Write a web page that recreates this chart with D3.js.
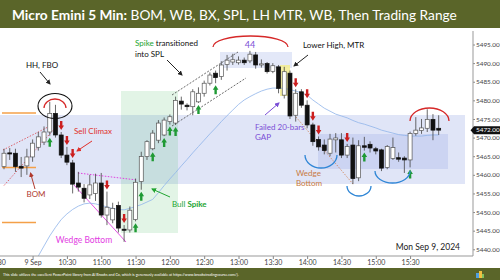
<!DOCTYPE html>
<html>
<head>
<meta charset="utf-8">
<script src="https://cdn.jsdelivr.net/npm/d3@7"></script>
<style>
  html, body { margin: 0; padding: 0; background: #fff; }
  svg { display: block; font-family: Lato, 'Open Sans', sans-serif; }
</style>
</head>
<body>
<div class="canvas"></div>
<script>
// DATA (5 min bars, 9:35 .. 15:55)

const opens = [5462.2, 5465.9, 5465.8, 5462.3, 5462.4, 5464.8, 5467.4, 5468.8, 5471.5, 5476.5,
    5470.7, 5465.3, 5463.2, 5457.8, 5456.4, 5454.6, 5455.0, 5457.8, 5449.2, 5447.9,
    5451.8, 5445.4, 5445.2, 5448.0, 5458.2, 5464.9, 5467.0, 5469.3, 5470.7, 5474.3,
    5473.9, 5479.8, 5478.7, 5478.3, 5479.6, 5481.9, 5484.6, 5487.3, 5486.4, 5489.6,
    5490.3, 5490.1, 5490.8, 5490.6, 5492.2, 5489.5, 5489.9, 5487.8, 5489.0, 5481.4,
    5487.3, 5476.0, 5482.3, 5478.7, 5473.4, 5469.5, 5468.0, 5465.8, 5469.4, 5469.4,
    5465.3, 5468.0, 5459.2, 5467.8, 5468.2, 5467.0, 5466.7, 5462.0, 5464.4, 5464.6,
    5464.5, 5464.0, 5471.1, 5471.9, 5472.5, 5474.9, 5472.5];

const highs = [5467.0, 5467.2, 5467.0, 5464.8, 5467.0, 5469.5, 5471.5, 5473.0, 5479.6, 5478.8,
    5471.5, 5467.5, 5464.0, 5460.8, 5457.5, 5460.0, 5460.3, 5460.5, 5455.5, 5452.5,
    5452.8, 5446.5, 5451.5, 5459.0, 5466.2, 5469.3, 5472.0, 5474.7, 5475.4, 5476.2,
    5481.0, 5481.0, 5479.2, 5483.0, 5483.5, 5485.3, 5487.5, 5488.0, 5490.5, 5492.2,
    5492.5, 5491.8, 5491.5, 5493.3, 5493.0, 5491.0, 5490.3, 5490.0, 5489.5, 5489.0,
    5488.0, 5483.0, 5483.0, 5480.0, 5474.0, 5470.3, 5469.5, 5471.0, 5471.2, 5471.2,
    5468.3, 5470.0, 5469.3, 5470.2, 5469.0, 5467.5, 5467.0, 5468.0, 5470.0, 5466.0,
    5465.0, 5471.6, 5475.5, 5475.0, 5477.6, 5476.3, 5476.0];

const lows = [5461.5, 5464.0, 5460.8, 5459.4, 5460.0, 5463.5, 5466.5, 5468.0, 5470.5, 5470.0,
    5464.5, 5462.6, 5455.0, 5455.5, 5452.6, 5453.5, 5453.0, 5448.5, 5446.5, 5447.0,
    5444.5, 5442.0, 5444.5, 5447.5, 5456.0, 5464.0, 5466.6, 5468.5, 5470.4, 5473.5,
    5473.4, 5477.5, 5477.3, 5476.0, 5479.3, 5481.0, 5484.0, 5484.6, 5485.5, 5488.0,
    5489.5, 5489.6, 5489.5, 5490.0, 5488.5, 5488.8, 5487.2, 5487.3, 5481.9, 5480.5,
    5475.0, 5474.3, 5478.0, 5472.5, 5467.8, 5466.5, 5465.5, 5465.0, 5466.0, 5464.5,
    5464.5, 5457.5, 5458.3, 5466.5, 5466.0, 5465.5, 5461.0, 5461.5, 5464.0, 5463.5,
    5460.5, 5462.0, 5470.5, 5471.0, 5471.5, 5469.3, 5470.7];

const closes = [5465.8, 5465.6, 5462.2, 5461.8, 5464.8, 5468.5, 5470.2, 5471.5, 5476.5, 5470.7,
    5465.3, 5463.4, 5457.5, 5456.7, 5453.7, 5457.3, 5457.8, 5449.2, 5451.3, 5451.0,
    5445.7, 5445.1, 5450.5, 5458.0, 5464.9, 5468.9, 5471.2, 5473.9, 5474.7, 5475.6,
    5480.0, 5479.0, 5478.3, 5482.3, 5481.9, 5484.6, 5486.8, 5486.1, 5489.5, 5490.8,
    5490.9, 5490.8, 5490.1, 5492.4, 5489.5, 5489.8, 5487.7, 5489.3, 5483.2, 5487.7,
    5475.8, 5481.9, 5478.7, 5473.4, 5468.9, 5467.5, 5466.5, 5469.6, 5469.9, 5465.3,
    5467.6, 5459.0, 5467.8, 5467.4, 5467.2, 5466.4, 5461.8, 5467.6, 5467.3, 5464.2,
    5464.0, 5471.1, 5472.0, 5472.6, 5474.9, 5472.0, 5472.0];

// 20 bar EMA
const emaValues = [5424.0, 5427.0, 5430.0, 5432.5, 5434.5, 5436.5, 5438.2, 5440.9, 5443.6, 5445.9,
    5448.0, 5449.5, 5450.7, 5451.6, 5452.2, 5452.4, 5452.2, 5451.8, 5451.4, 5451.0,
    5450.7, 5450.6, 5451.0, 5451.5, 5452.0, 5452.7, 5453.4, 5455.2, 5457.1, 5458.9,
    5460.6, 5462.4, 5464.1, 5465.9, 5467.6, 5469.3, 5471.0, 5472.6, 5474.3, 5475.9,
    5477.4, 5478.9, 5480.1, 5481.0, 5481.8, 5482.5, 5483.0, 5483.3, 5483.3, 5483.2,
    5482.9, 5482.5, 5482.0, 5481.4, 5480.1, 5479.0, 5477.9, 5477.1, 5476.3, 5475.8,
    5475.3, 5474.6, 5474.0, 5473.6, 5473.1, 5472.6, 5472.0, 5471.6, 5471.2, 5470.8,
    5470.6, 5470.4, 5470.4, 5470.4, 5470.6, 5470.7, 5470.7];

// signal bars
const bearSignalBars = [10, 11, 12, 18, 21, 51, 53, 54, 55, 60];
const bullSignalBars = [8, 23, 24, 26, 28, 29, 30, 34, 37, 63, 71];

// axis ticks
const xTickBars = [-1, 5, 11, 17, 23, 29, 35, 41, 47, 53, 59, 65, 71];
const xTickLabels = ['9:30', '9 Sep', '10:30', '11:00', '11:30', '12:00', '12:30',
    '13:00', '13:30', '14:00', '14:30', '15:00', '15:30'];
const yTicks = [5440, 5445, 5450, 5455, 5460, 5465, 5470, 5475, 5480, 5485, 5490, 5495];
const lastPrice = 5472.00;

const bars = d3.range(opens.length).map(i => ({
    i: i,
    open: opens[i],
    high: highs[i],
    low: lows[i],
    close: closes[i]
}));


// CANVAS
const svg = d3.select('.canvas').append('svg')
    .attr('width', 500)
    .attr('height', 280);

const defs = svg.append('defs');

defs.append('clipPath').attr('id', 'plotClip')
    .append('rect')
    .attr('x', 0).attr('y', 30)
    .attr('width', 473).attr('height', 226);

// arrowheads
[['blk', '#222'], ['red', '#e0302a'], ['grn', '#22a532'], ['pur', '#7b4fd6'], ['brn', '#b03a2e']]
    .forEach(([id, col]) => {
        defs.append('marker')
            .attr('id', 'ah-' + id)
            .attr('viewBox', '0 0 10 10')
            .attr('refX', 8).attr('refY', 5)
            .attr('markerWidth', 5).attr('markerHeight', 5)
            .attr('orient', 'auto')
            .append('path')
            .attr('d', 'M0,0 L10,5 L0,10 Z')
            .attr('fill', col);
    });


// scales
const x = d3.scaleLinear().domain([-0.7, 82]).range([0, 473]);
const y = d3.scaleLinear().domain([5440, 5495]).range([249.3, 44.5]);


// TITLE + FOOTER
svg.append('rect').attr('x', 0).attr('y', 0).attr('width', 500).attr('height', 28).attr('fill', '#5a6529');

const title = svg.append('text')
    .attr('x', 12).attr('y', 20)
    .attr('fill', '#fff')
    .style('font-size', '13.7px');
title.append('tspan').style('font-weight', 700).text('Micro Emini 5 Min:');
title.append('tspan').text(' BOM, WB, BX, SPL, LH MTR, WB, Then Trading Range');

svg.append('rect').attr('x', 0).attr('y', 268).attr('width', 500).attr('height', 12).attr('fill', '#5a6529');
svg.append('text')
    .attr('x', 3).attr('y', 275.5)
    .attr('fill', '#fff')
    .style('font-size', '3.7px')
    .text('This slide utilizes the excellent PowerPoint library from Al Brooks and Co, which is generously available at https://www.brookstradingcourse.com/).');

// small logo bottom right
const logo = svg.append('g').attr('transform', 'translate(476,270)');
logo.append('rect').attr('x', 0).attr('y', 3).attr('width', 3).attr('height', 5).attr('fill', '#4f9fe0');
logo.append('rect').attr('x', 3).attr('y', 1).attr('width', 3).attr('height', 7).attr('fill', '#f0c040');
logo.append('rect').attr('x', 6).attr('y', 4).attr('width', 2).attr('height', 4).attr('fill', '#7fc060');


// PLOT
const plot = svg.append('g').attr('clip-path', 'url(#plotClip)');

// shaded zones
plot.append('rect').attr('x', 0).attr('y', 115).attr('width', 465).attr('height', 69)
    .attr('fill', 'rgb(70,100,210)').attr('fill-opacity', 0.17);
plot.append('rect').attr('x', 318).attr('y', 134).attr('width', 130).attr('height', 35)
    .attr('fill', 'rgb(70,100,210)').attr('fill-opacity', 0.13);
plot.append('rect').attr('x', 220).attr('y', 52).attr('width', 72).attr('height', 16)
    .attr('fill', 'rgb(70,100,210)').attr('fill-opacity', 0.15);
plot.append('rect').attr('x', 121).attr('y', 91).attr('width', 57).attr('height', 142)
    .attr('fill', 'rgb(60,180,90)').attr('fill-opacity', 0.15);
plot.append('rect').attr('x', 280).attr('y', 65).attr('width', 10).attr('height', 31)
    .attr('fill', '#f3ec8e').attr('fill-opacity', 0.85);

// orange levels on the left
[113, 167.5, 222.5].forEach(yy => {
    plot.append('line')
        .attr('x1', 2).attr('x2', 36).attr('y1', yy).attr('y2', yy)
        .attr('stroke', '#f4a048').attr('stroke-width', 1.5);
});

// helper for trend lines
const seg = (x1, y1, x2, y2, col, dash, w) => plot.append('line')
    .attr('x1', x1).attr('y1', y1).attr('x2', x2).attr('y2', y2)
    .attr('stroke', col).attr('stroke-width', w || 0.8)
    .attr('stroke-dasharray', dash || null);

seg(3, 150, 47, 127.5, '#d9434a', '1.5,1.5');
seg(4, 185.5, 55, 128, '#d9434a', '1.5,1.5');
seg(78, 173, 137, 180, '#e040e0', '1.5,1.5', 1);
seg(74, 185, 126, 242, '#e040e0', null, 0.9);
seg(172, 95, 238, 52, '#444', '2,1.5');
seg(172, 126, 246, 78, '#444', '2,1.5');
seg(296, 117, 353, 184, '#d08050', '1.5,1.5');

// EMA
plot.append('path')
    .datum(emaValues)
    .attr('d', d3.line().x((d, i) => x(i)).y(d => y(d)))
    .attr('fill', 'none')
    .attr('stroke', '#8fb4ea')
    .attr('stroke-width', 0.8);

// CANDLES
const bodyW = 4;
const candle = plot.selectAll('g.candle').data(bars).enter().append('g').attr('class', 'candle');

candle.append('line')
    .attr('x1', d => x(d.i)).attr('x2', d => x(d.i))
    .attr('y1', d => y(d.high)).attr('y2', d => y(d.low))
    .attr('stroke', '#444').attr('stroke-width', 0.8);

candle.append('rect')
    .attr('x', d => x(d.i) - bodyW / 2)
    .attr('y', d => y(Math.max(d.open, d.close)))
    .attr('width', bodyW)
    .attr('height', d => Math.max(0.8, Math.abs(y(d.open) - y(d.close))))
    .attr('fill', d => d.close >= d.open ? '#fff' : '#111')
    .attr('stroke', d => d.close >= d.open ? '#555' : '#111')
    .attr('stroke-width', 0.7);

// signal arrows
plot.selectAll('path.bear').data(bearSignalBars).enter().append('path')
    .attr('class', 'bear')
    .attr('transform', i => `translate(${x(i)},${y(highs[i]) - 2})`)
    .attr('d', 'M-1.2,-9 L1.2,-9 L1.2,-4.5 L2.8,-4.5 L0,0 L-2.8,-4.5 L-1.2,-4.5 Z')
    .attr('fill', '#cc1f1f');

plot.selectAll('path.bull').data(bullSignalBars).enter().append('path')
    .attr('class', 'bull')
    .attr('transform', i => `translate(${x(i)},${y(lows[i]) + 2})`)
    .attr('d', 'M-1.2,9 L1.2,9 L1.2,4.5 L2.8,4.5 L0,0 L-2.8,4.5 L-1.2,4.5 Z')
    .attr('fill', '#1f9a34');


// ANNOTATIONS
const ann = svg.append('g');

const arc = (d, col) => ann.append('path').attr('d', d)
    .attr('fill', 'none').attr('stroke', col).attr('stroke-width', 1.3);

ann.append('ellipse').attr('cx', 55).attr('cy', 106).attr('rx', 17).attr('ry', 12.5)
    .attr('fill', 'none').attr('stroke', '#111').attr('stroke-width', 1.1);
arc('M44,108 A11 9 0 0 1 66,108', '#d62828');
arc('M213,47 A37.5 11 0 0 1 288,47', '#d62828');
arc('M410,121 A19.5 13 0 0 1 449,121', '#d62828');
arc('M305,155 A16 13 0 0 0 337,155', '#2f86d6');
arc('M347,186 A12 10 0 0 0 371,186', '#2f86d6');
arc('M375,171 A17.5 12 0 0 0 410,171', '#2f86d6');

const arrow = (x1, y1, x2, y2, col, id) => ann.append('line')
    .attr('x1', x1).attr('y1', y1).attr('x2', x2).attr('y2', y2)
    .attr('stroke', col).attr('stroke-width', 1)
    .attr('marker-end', `url(#ah-${id})`);

arrow(40, 72, 50, 84, '#222', 'blk');
arrow(92, 141, 77, 151, '#e0302a', 'red');
arrow(35, 189, 30.5, 173, '#b03a2e', 'brn');
arrow(170, 197, 152, 189, '#22a532', 'grn');
arrow(167, 60, 182, 75, '#222', 'blk');
arrow(308, 55, 294, 66, '#222', 'blk');
arrow(265, 115, 279, 103, '#7b4fd6', 'pur');

const label = (tx, ty, str, col, size, anchor) => ann.append('text')
    .attr('x', tx).attr('y', ty)
    .attr('fill', col)
    .attr('text-anchor', anchor || 'start')
    .style('font-size', (size || 8) + 'px')
    .text(str);

label(42, 68, 'HH, FBO', '#111', 8, 'middle');
label(74, 134, 'Sell Climax', '#e0302a', 8);
label(36, 197, 'BOM', '#b03a2e', 8, 'middle');
label(84, 243, 'Wedge Bottom', '#e23ee2', 8.5, 'middle');

const bull = label(172, 207, '', '#22a532', 8);
bull.append('tspan').text('Bull ');
bull.append('tspan').style('font-weight', 700).text('Spike');

const spl = label(135, 46, '', '#111', 8);
spl.append('tspan').attr('fill', '#22a532').text('Spike');
spl.append('tspan').text(' transitioned');
label(135, 56.5, 'into SPL', '#111', 8);

label(250, 48, '44', '#7b4fd6', 9, 'middle');
label(303, 48, 'Lower High, MTR', '#111', 8);
label(255, 130, 'Failed 20-bars', '#7b4fd6', 8);
label(255, 140, 'GAP', '#7b4fd6', 8);
label(296, 176, 'Wedge', '#c87a3e', 8);
label(296, 186, 'Bottom', '#c87a3e', 8);
label(460, 250, 'Mon Sep 9, 2024', '#222', 8.5, 'end');


// AXES
const yAxis = d3.axisRight(y)
    .tickValues(yTicks)
    .tickFormat(d3.format('.2f'))
    .tickSize(2)
    .tickPadding(1);

const yg = svg.append('g').attr('transform', 'translate(473,0)').call(yAxis);
yg.select('.domain').remove();
yg.selectAll('line').attr('stroke', '#888');
yg.selectAll('text').attr('fill', '#444').style('font-size', '6.4px').style('font-family', 'Lato, sans-serif');

svg.append('line').attr('x1', 473).attr('x2', 473).attr('y1', 31).attr('y2', 256)
    .attr('stroke', '#999').attr('stroke-width', 1);

const xAxis = d3.axisBottom(x)
    .tickValues(xTickBars)
    .tickFormat((d, i) => xTickLabels[i])
    .tickSize(3)
    .tickPadding(1.5);

const xg = svg.append('g').attr('transform', 'translate(0,256)').call(xAxis);
xg.select('.domain').attr('stroke', '#999').attr('d', 'M0,0H473');
xg.selectAll('line').attr('stroke', '#888');
xg.selectAll('text').attr('fill', '#444').style('font-size', '7px').style('font-family', 'Lato, sans-serif');

// last price tag
svg.append('path')
    .attr('d', `M470.5,${y(lastPrice)} L474,${y(lastPrice) - 4} L500,${y(lastPrice) - 4} L500,${y(lastPrice) + 4} L474,${y(lastPrice) + 4} Z`)
    .attr('fill', '#111');
svg.append('text')
    .attr('x', 476).attr('y', y(lastPrice) + 2.3)
    .attr('fill', '#fff')
    .style('font-size', '6.4px')
    .text(d3.format('.2f')(lastPrice));

</script>
</body>
</html>
